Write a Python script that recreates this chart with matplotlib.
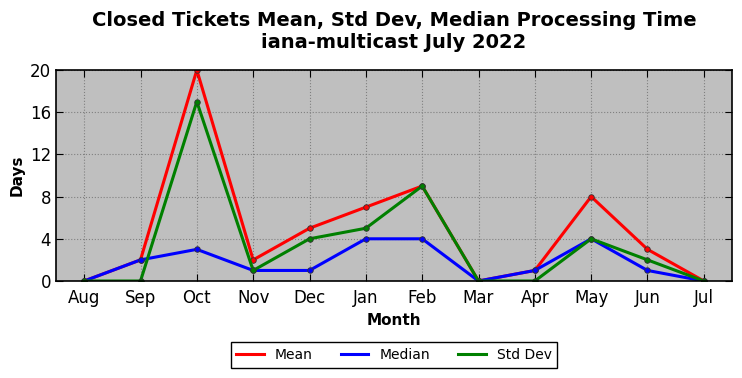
import matplotlib
matplotlib.use("Agg")
import matplotlib.pyplot as plt
from matplotlib.lines import Line2D

months = ["Aug", "Sep", "Oct", "Nov", "Dec", "Jan", "Feb", "Mar", "Apr", "May", "Jun", "Jul"]
mean = [0, 2, 20, 2, 5, 7, 9, 0, 1, 8, 3, 0]
median = [0, 2, 3, 1, 1, 4, 4, 0, 1, 4, 1, 0]
std_dev = [0, 0, 17, 1, 4, 5, 9, 0, 0, 4, 2, 0]
series = [("Mean", mean, "red"), ("Median", median, "blue"), ("Std Dev", std_dev, "green")]

fig = plt.figure(figsize=(7.42, 3.78), dpi=100)
ax = fig.add_axes([56 / 742, 1 - 281 / 378, 676 / 742, 211 / 378])
ax.set_facecolor("#bfbfbf")

x = list(range(len(months)))
handles = []
for name, vals, col in series:
    ax.plot(x, vals, color=col, lw=2.2, marker="o", ms=4, mec="#333333", mew=0.6)
    handles.append(Line2D([], [], color=col, lw=2.2, label=name))

ax.set_xlim(-0.5, 11.5)
ax.set_ylim(0, 20)
ax.set_xticks(x)
ax.set_xticklabels(months)
ax.set_yticks([0, 4, 8, 12, 16, 20])
ax.tick_params(direction="in", top=True, right=True, labelsize=12, length=5)
ax.tick_params(axis="x", pad=6)
ax.grid(True, color="#808080", linestyle=":", linewidth=0.8)
for s in ax.spines.values():
    s.set_linewidth(1.2)

ax.set_xlabel("Month", fontsize=11, fontweight="bold")
ax.set_ylabel("Days", fontsize=11, fontweight="bold")
fig.suptitle("Closed Tickets Mean, Std Dev, Median Processing Time\niana-multicast July 2022",
             fontsize=14, fontweight="bold", x=394 / 742, y=0.972)

fig.legend(handles=handles, loc="center", bbox_to_anchor=(394 / 742, 1 - 355 / 378), ncol=3, fontsize=10,
           fancybox=False, edgecolor="black", framealpha=1, columnspacing=2.0, handlelength=2)

fig.savefig("out.png", dpi=100)
